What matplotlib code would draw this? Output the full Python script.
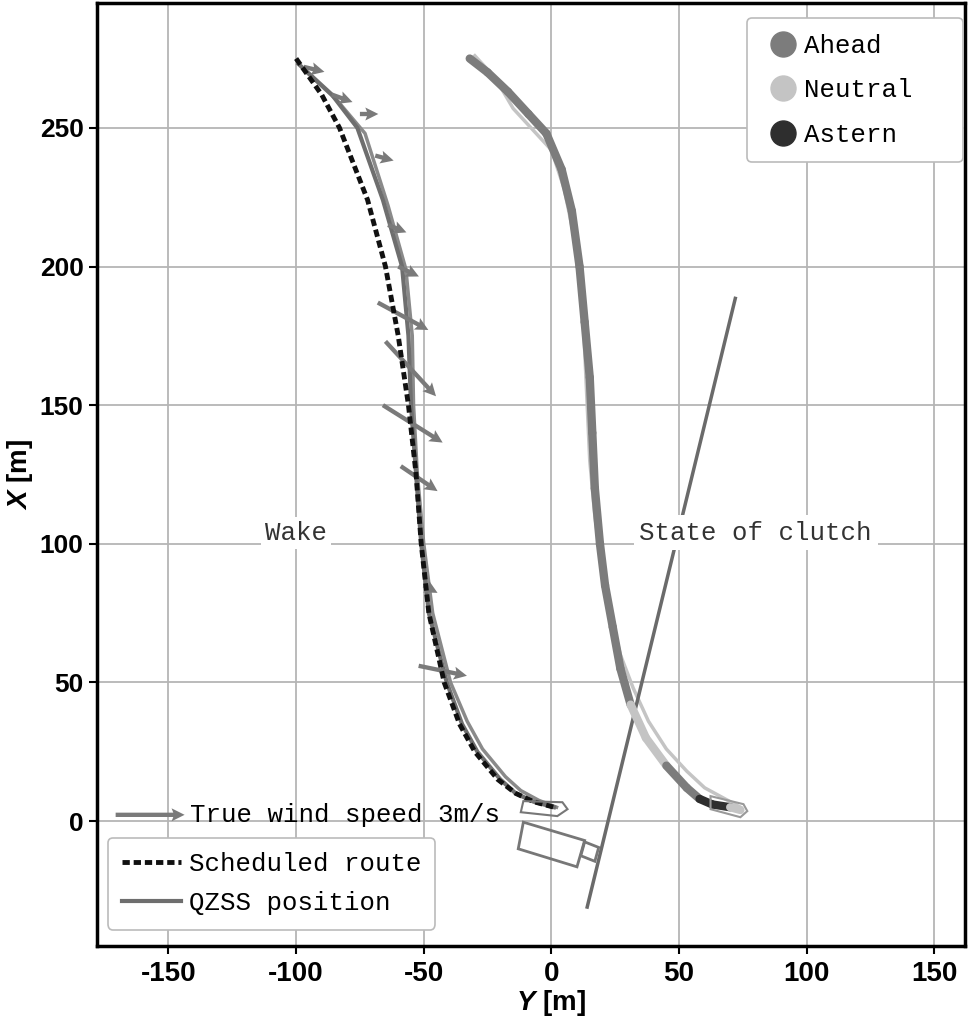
import numpy as np
import matplotlib
matplotlib.use("Agg")
import matplotlib.pyplot as plt
from matplotlib.collections import LineCollection
from matplotlib.lines import Line2D
from matplotlib.patches import Polygon

plt.rcParams['axes.unicode_minus'] = False
plt.rcParams['mathtext.fontset'] = 'custom'
plt.rcParams['mathtext.rm'] = 'Liberation Sans'
plt.rcParams['mathtext.bf'] = 'Liberation Sans:bold'
plt.rcParams['mathtext.bfit'] = 'Liberation Sans:italic:bold'

# scheduled route (Y, X) [m]
route_y = [-100, -90, -83, -72, -65, -60, -56, -53, -51, -48, -42, -36, -30, -21, -14, -7, 1]
route_x = [275, 262, 250, 224, 200, 175, 150, 125, 100, 75, 50, 35, 25, 15, 10, 7, 5]

# QZSS positions, two runs
run1_y = [-99, -86, -76, -66, -58.5, -56, -55, -53, -51, -48, -41, -35, -29, -20, -14, -7, 1]
run1_x = [273, 262, 250, 224, 200, 175, 150, 125, 100, 75, 50, 35, 25, 15, 10, 7, 5]
run2_y = [-97, -84, -73, -64, -57, -54.5, -54, -52.5, -50, -46.5, -39.5, -33, -27, -18, -12, -5, 2]
run2_x = [271, 260, 248, 222, 199, 175, 150, 125, 100, 75, 50, 36, 26, 16, 11, 7.5, 5]

# true wind: position on track (Y, X) and components (Y, X) [m/s]
wind_y = [-97, -86, -75, -69, -64, -60, -68, -65, -66, -59, -50, -52]
wind_x = [272, 262, 255, 240, 215, 200, 187, 173, 150, 128, 85, 56]
wind_u = [0.9, 0.9, 0.8, 0.8, 0.8, 0.9, 2.2, 2.2, 2.6, 1.6, 0.6, 2.1]
wind_v = [-0.2, -0.3, 0.0, -0.2, -0.3, -0.4, -1.1, -2.2, -1.5, -1.0, -0.3, -0.4]

# clutch state along the run (shifted copy of the track)
clutch_y = [-32, -25, -17, -9, -2, 4, 8, 11, 13, 15, 16, 17, 19, 21, 24, 27, 31, 37, 45, 53, 58, 63, 70, 74]
clutch_x = [275, 270, 263, 255, 248, 235, 220, 200, 180, 160, 140, 120, 100, 85, 70, 55, 42, 30, 20, 12, 8, 6, 5, 4]
clutch_state = ['Ahead'] * 16 + ['Neutral', 'Neutral', 'Ahead', 'Ahead', 'Astern', 'Astern', 'Neutral']
neutral_y = [-30, -22, -15, -8, 0, 5, 9, 12, 13, 14, 15, 17, 20, 23, 27, 32, 38, 45, 53, 60, 68, 74]
neutral_x = [276, 268, 257, 250, 242, 228, 210, 190, 170, 150, 130, 110, 90, 75, 60, 48, 36, 26, 18, 12, 8, 5]

# vessel outlines (Y, X)
ship_y = [-11, 13, 10, -13]
ship_x = [-0.4, -7, -16.5, -10]
box_y = [13, 18.5, 17, 11.5]
box_x = [-7.5, -9.5, -14.5, -12.5]
end1_y = [-12, -11, 4.3, 6.3, 2.3, -12]
end1_x = [3.2, 7.2, 6.8, 4.3, 1.8, 3.2]
end2_y = [62.3, 75.2, 76.7, 74, 62.3]
end2_x = [9, 6.1, 3.6, 1.4, 4.3]
line_y = [72, 14]
line_x = [188.5, -31]

state_names = ['Ahead', 'Neutral', 'Astern']
state_colors = {'Ahead': '#7c7c7c', 'Neutral': '#c4c4c4', 'Astern': '#2e2e2e'}

fig = plt.figure(figsize=(9.69, 10.27), dpi=100)
ax = fig.add_axes([0.100, 0.079, 0.896, 0.918])

mono = 'Liberation Mono'
fs = 18.5

# wake panel
ax.plot(run2_y, run2_x, color='#8a8a8a', lw=2.5, zorder=3)
ax.plot(run1_y, run1_x, color='#6e6e6e', lw=3, zorder=3)
ax.plot(route_y, route_x, color='#111111', lw=3.5, ls=(0, (1.5, 0.8)), zorder=4)
q = ax.quiver(wind_y, wind_x, wind_u, wind_v, angles='xy', scale_units='xy',
              scale=3 / 27.0, color='#7a7a7a', width=0.005, headwidth=3,
              headlength=3, headaxislength=2.6, zorder=3)
ax.add_patch(Polygon(np.column_stack([end1_y, end1_x]), closed=True, fill=False,
                     ec='#777777', lw=1.5, zorder=5))

# clutch state panel
ax.plot(neutral_y, neutral_x, color=state_colors['Neutral'], lw=2.5, zorder=3)
pts = np.column_stack([clutch_y, clutch_x])
segs = np.stack([pts[:-1], pts[1:]], axis=1)
lc = LineCollection(segs, colors=[state_colors[s] for s in clutch_state],
                    linewidths=6, capstyle='round', zorder=4)
ax.add_collection(lc)
ax.add_patch(Polygon(np.column_stack([end2_y, end2_x]), closed=True, fill=False,
                     ec='#999999', lw=1.5, zorder=5))

# berth line and moored vessel
ax.plot(line_y, line_x, color='#6a6a6a', lw=2.5, zorder=3)
ax.add_patch(Polygon(np.column_stack([ship_y, ship_x]), closed=True, fill=False,
                     ec='#777777', lw=2, zorder=5))
ax.add_patch(Polygon(np.column_stack([box_y, box_x]), closed=True, fill=False,
                     ec='#777777', lw=2, zorder=5))

ax.text(-100, 104, 'Wake', family=mono, fontsize=fs, color='#333333',
        ha='center', va='center', zorder=6,
        bbox=dict(fc='white', ec='none', pad=3))
ax.text(80, 104, 'State of clutch', family=mono, fontsize=fs, color='#333333',
        ha='center', va='center', zorder=6,
        bbox=dict(fc='white', ec='none', pad=4))

ax.set_xlim(-178, 162)
ax.set_ylim(-45, 295)
ax.set_xticks([-150, -100, -50, 0, 50, 100, 150])
ax.set_yticks([0, 50, 100, 150, 200, 250])
ax.grid(True, color='#b5b5b5', lw=1.3)
ax.set_axisbelow(True)
for sp in ax.spines.values():
    sp.set_linewidth(2.5)
ax.tick_params(direction='out', length=6, width=1.5)
ax.tick_params(axis='x', labelsize=20, pad=5)
ax.tick_params(axis='y', labelsize=19)
for lab in ax.get_xticklabels() + ax.get_yticklabels():
    lab.set_fontweight('bold')
    lab.set_family('Liberation Sans')
ax.set_xlabel(r'$\mathbfit{Y}$ [m]', fontsize=20, fontweight='bold', family='Liberation Sans')
ax.set_ylabel(r'$\mathbfit{X}$ [m]', fontsize=20, fontweight='bold', family='Liberation Sans')
ax.xaxis.set_label_coords(0.523, -0.045)
ax.yaxis.set_label_coords(-0.071, 0.5)

# wind key and track legend (lower left)
ax.quiverkey(q, 0.101, 0.139, 3, 'True wind speed 3m/s', labelpos='E',
             coordinates='axes', labelsep=0.05,
             fontproperties={'family': mono, 'size': fs})
h1 = [Line2D([], [], color='#111111', lw=3.5, ls=(0, (1.5, 0.8))),
      Line2D([], [], color='#6e6e6e', lw=3)]
leg1 = ax.legend(h1, ['Scheduled route', 'QZSS position'], loc='upper left',
                 bbox_to_anchor=(0.0127, 0.1145), borderaxespad=0,
                 prop={'family': mono, 'size': fs}, handlelength=2.3,
                 handletextpad=0.3, labelspacing=0.6, fancybox=True,
                 edgecolor='#bbbbbb', framealpha=1, borderpad=0.55)
leg1.get_frame().set_linewidth(1.2)
ax.add_artist(leg1)

# clutch legend (upper right)
h2 = [Line2D([], [], ls='none', marker='o', ms=18, color=state_colors[s])
      for s in state_names]
leg2 = ax.legend(h2, state_names, loc='upper left', mode='expand',
                 bbox_to_anchor=(0.749, 0.984, 0.249, 0), borderaxespad=0,
                 prop={'family': mono, 'size': fs}, handlelength=1.6,
                 handletextpad=0.0, labelspacing=0.8, fancybox=True,
                 edgecolor='#bbbbbb', framealpha=1, borderpad=0.6)
leg2.get_frame().set_linewidth(1.2)

fig.savefig('out.png', dpi=100)
